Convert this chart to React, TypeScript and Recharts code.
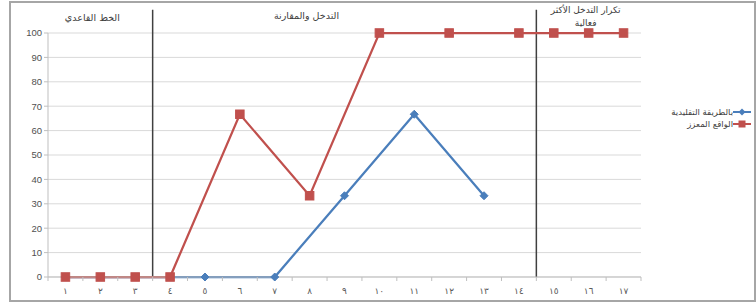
import React from "react";
import {
  LineChart,
  Line,
  XAxis,
  YAxis,
  CartesianGrid,
  ReferenceLine,
  ReferenceArea,
  Legend,
} from "recharts";

const categories = [1, 2, 3, 4, 5, 6, 7, 8, 9, 10, 11, 12, 13, 14, 15, 16, 17];
const traditional = [0, 0, 0, 0, 0, null, 0, null, 33.3, null, 66.7, null, 33.3, null, null, null, null];
const reinforced = [0, 0, 0, 0, null, 66.7, null, 33.3, null, 100, null, 100, null, 100, 100, 100, 100];
const yTicks = [0, 10, 20, 30, 40, 50, 60, 70, 80, 90, 100];
const phaseBounds = [3.5, 14.5];
const phaseNames = ["الخط القاعدي", "التدخل والمقارنة", "تكرار التدخل الأكثر|فعالية"];
const seriesNames = ["بالطريقة التقليدية", "الواقع المعزز"];

const BLUE = "#4a7ebb";
const RED = "#c0504d";
const AR_FONT = "'DejaVu Sans', sans-serif";

const data = categories.map((c, i) => ({
  x: c,
  traditional: traditional[i],
  reinforced: reinforced[i],
}));

const xTicks: number[] = [];
for (let i = 0; i <= categories.length; i++) {
  xTicks.push(i + 0.5);
  if (i < categories.length) xTicks.push(categories[i]);
}

const toArabicDigits = (n: number) =>
  String(n).replace(/[0-9]/g, (d) => "٠١٢٣٤٥٦٧٨٩"[Number(d)]);

const XTick = (props: any) => {
  const { x, y, payload } = props;
  const v = payload.value;
  if (Number.isInteger(v)) {
    return (
      <text x={x} y={y + 9} textAnchor="middle" fontSize={9} fill="#595959" fontFamily={AR_FONT}>
        {toArabicDigits(v)}
      </text>
    );
  }
  return <line x1={x} x2={x} y1={y - 8} y2={y - 4} stroke="#bfbfbf" strokeWidth={1} />;
};

const Diamond = (props: any) => {
  const { cx, cy } = props;
  if (cx == null || cy == null) return null;
  const r = 4;
  return (
    <path
      d={`M${cx},${cy - r}L${cx + r},${cy}L${cx},${cy + r}L${cx - r},${cy}Z`}
      fill={BLUE}
      stroke={BLUE}
    />
  );
};

const Square = (props: any) => {
  const { cx, cy } = props;
  if (cx == null || cy == null) return null;
  const s = 8.5;
  return <rect x={cx - s / 2} y={cy - s / 2} width={s} height={s} fill={RED} stroke={RED} />;
};

const makePhaseLabel = (name: string, dx: number, dy: number, fs: number) => (props: any) => {
  const vb = props.viewBox || {};
  const cx = vb.x + vb.width / 2 + dx;
  const lines = name.split("|");
  return (
    <g>
      {lines.map((l, i) => (
        <text
          key={i}
          x={cx}
          y={vb.y + dy + i * 13}
          textAnchor="middle"
          dominantBaseline="central"
          fontSize={fs}
          fill="#404040"
          fontFamily={AR_FONT}
        >
          {l}
        </text>
      ))}
    </g>
  );
};

const LegendContent = () => (
  <div style={{ display: "flex", flexDirection: "column", alignItems: "flex-end", width: 110 }}>
    {seriesNames.map((n, i) => (
      <div key={i} style={{ display: "flex", alignItems: "center", height: 12 }}>
        <span style={{ fontFamily: AR_FONT, fontSize: 8.5, color: "#404040", direction: "rtl" }}>{n}</span>
        <svg width={18} height={10} style={{ display: "block" }}>
          <line x1={0} x2={18} y1={5} y2={5} stroke={i === 0 ? BLUE : RED} strokeWidth={2} />
          {i === 0 ? (
            <path d="M9,1.5L12.5,5L9,8.5L5.5,5Z" fill={BLUE} />
          ) : (
            <rect x={5.5} y={1.5} width={7} height={7} fill={RED} />
          )}
        </svg>
      </div>
    ))}
  </div>
);

const phaseRanges = [
  [0.5, phaseBounds[0]],
  [phaseBounds[0], phaseBounds[1]],
  [phaseBounds[1], 17.5],
];
const phaseOffsets = [
  [-8, 8, 9.5],
  [-38, 6, 9.5],
  [-3, 0, 9],
];

export default function App() {
  return (
    <div style={{ position: "absolute", left: 0, top: 0, width: 756, height: 303, background: "#fff" }}>
      <div
        style={{
          position: "absolute",
          left: 9,
          top: 1,
          width: 743,
          height: 297,
          border: "2px solid #a6a6a6",
        }}
      />
      <div style={{ position: "absolute", left: 0, top: 0 }}>
        <LineChart width={756} height={303} data={data} margin={{ top: 33, right: 5, left: 0, bottom: 6 }}>
          <CartesianGrid vertical={false} stroke="#d9d9d9" />
          <XAxis
            dataKey="x"
            type="number"
            domain={[0.5, 17.5]}
            ticks={xTicks}
            interval={0}
            tickLine={false}
            axisLine={{ stroke: "#bfbfbf" }}
            tick={<XTick />}
            height={20}
          />
          <YAxis
            domain={[0, 100]}
            ticks={yTicks}
            width={48}
            axisLine={{ stroke: "#bfbfbf" }}
            tickLine={{ stroke: "#bfbfbf" }}
            tickSize={4}
            tick={{ fontSize: 9.5, fill: "#505050", fontFamily: "'Liberation Sans', Arial, sans-serif" }}
          />
          {phaseRanges.map((r, i) => (
            <ReferenceArea
              key={i}
              x1={r[0]}
              x2={r[1]}
              y1={100}
              y2={109.5}
              ifOverflow="visible"
              fill="none"
              fillOpacity={0}
              stroke="none"
              label={makePhaseLabel(phaseNames[i], phaseOffsets[i][0], phaseOffsets[i][1], phaseOffsets[i][2])}
            />
          ))}
          {phaseBounds.map((b, i) => (
            <ReferenceLine
              key={i}
              segment={[
                { x: b, y: 0 },
                { x: b, y: 109.5 },
              ]}
              ifOverflow="visible"
              stroke="#404040"
              strokeWidth={1.5}
            />
          ))}
          <Line
            type="linear"
            dataKey="traditional"
            name={seriesNames[0]}
            stroke={BLUE}
            strokeWidth={2.25}
            connectNulls
            dot={<Diamond />}
            activeDot={false}
            isAnimationActive={false}
          />
          <Line
            type="linear"
            dataKey="reinforced"
            name={seriesNames[1]}
            stroke={RED}
            strokeWidth={2.25}
            connectNulls
            dot={<Square />}
            activeDot={false}
            isAnimationActive={false}
          />
          <Legend
            layout="vertical"
            align="right"
            verticalAlign="middle"
            content={<LegendContent />}
            wrapperStyle={{ width: 110, top: 106, right: 5 }}
          />
        </LineChart>
      </div>
    </div>
  );
}
